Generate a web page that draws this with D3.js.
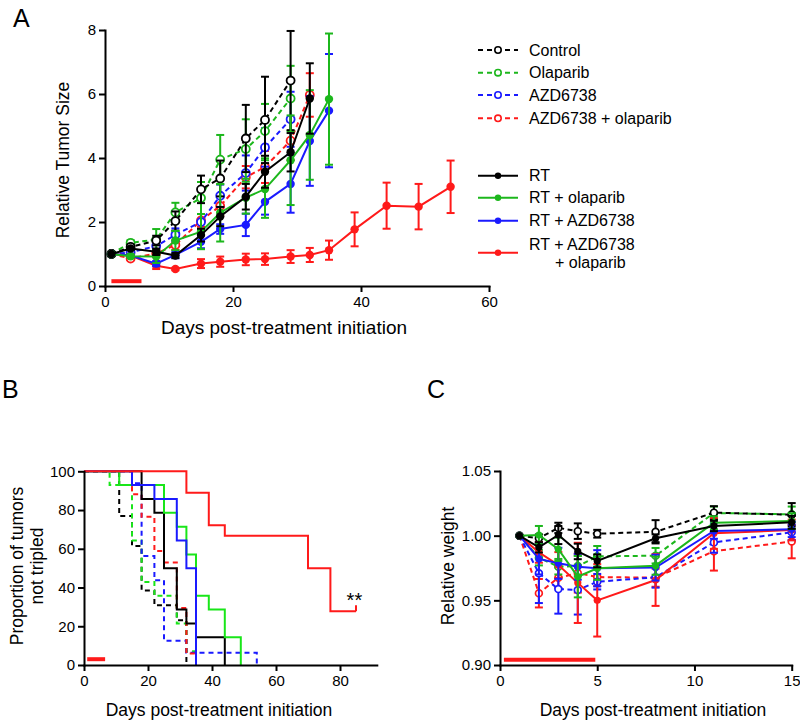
<!DOCTYPE html>
<html><head><meta charset="utf-8">
<script src="https://cdn.jsdelivr.net/npm/d3@7"></script>
<style>body{margin:0;background:#fff} svg{display:block}</style>
</head><body>
<svg id="chart" width="800" height="722"></svg>
<script>
// ---------------- DATA ----------------
// Panel A: relative tumour size
const daysA = [1,4,8,11,15,18,22,25,29,32,35,39,44,49,54];
const control      = [1.00,1.22,1.42,2.03,3.02,3.36,4.61,5.19,6.42];
const controlErr   = [0,0.08,0.15,0.30,0.43,0.56,1.05,1.35,1.55];
const olaparib     = [1.00,1.35,1.45,2.30,2.75,3.95,4.28,4.84,5.86];
const olaparibErr  = [0,0.08,0.33,0.30,0.50,0.77,0.93,0.85,1.02];
const azd          = [1.00,1.05,1.25,1.60,2.00,2.82,3.53,4.33,5.21];
const azdErr       = [0,0.06,0.15,0.20,0.25,0.35,0.55,0.60,0.86];
const azdOla       = [1.00,0.86,1.02,1.28,2.05,2.50,3.40,3.72,4.54,5.97];
const azdOlaErr    = [0,0.05,0.12,0.15,0.20,0.30,0.35,0.50,0.60,0.68];
const rt           = [1.00,1.17,1.07,0.95,1.59,2.17,2.79,3.57,4.18,5.86];
const rtErr        = [0,0.05,0.10,0.08,0.20,0.30,0.40,0.50,0.60,1.10];
const rtOla        = [1.00,0.93,0.92,1.42,1.70,2.29,2.76,3.03,3.93,4.72,5.84];
const rtOlaErr     = [0,0.06,0.20,0.30,0.55,0.90,0.50,0.90,1.40,1.40,2.05];
const rtAzd        = [1.00,0.95,0.70,0.97,1.38,1.78,1.91,2.63,3.19,4.53,5.48];
const rtAzdErr     = [0,0.05,0.08,0.10,0.20,0.15,0.35,0.40,0.90,1.40,1.77];
const rtAzdOla     = [1.00,0.95,0.63,0.53,0.70,0.76,0.83,0.84,0.92,0.97,1.12,1.77,2.51,2.48,3.10];
const rtAzdOlaErr  = [0,0.05,0.10,0.04,0.14,0.16,0.18,0.18,0.20,0.22,0.30,0.53,0.72,0.71,0.82];
const ticksAx = [0,20,40,60];
const ticksAy = [0,2,4,6,8];
const treatA = [1, 5.7, 0.15];   // start day, end day, level

// Panel B: Kaplan-Meier, proportion of tumours not tripled
const kmControlT  = [0,11,15,18,22,29,32];
const kmControlS  = [100,76.9,61.5,38.5,30.8,23.1,0];
const kmOlaT      = [0,8,15,18,22,29,32,35];
const kmOlaS      = [100,92.9,64.3,42.9,35.7,21.4,7.1,0];
const kmAzdT      = [0,15,18,22,25,32,54];
const kmAzdS      = [100,93.8,56.3,43.8,12.5,6.3,0];
const kmAzdOlaT   = [0,15,18,22,25,29,32,35];
const kmAzdOlaS   = [100,88.2,76.5,58.8,52.9,29.4,5.9,0];
const kmRtT       = [0,18,22,25,29,32,35,44];
const kmRtS       = [100,85.7,78.6,50,28.6,21.4,14.3,0];
const kmRtOlaT    = [0,11,25,29,32,35,39,44,49];
const kmRtOlaS    = [100,92.9,78.6,71.4,57.1,35.7,28.6,14.3,0];
const kmRtAzdT    = [0,15,22,29,32,35];
const kmRtAzdS    = [100,92.9,85.7,64.3,50,0];
const kmRtAzdOlaT = [0,32,39,44,70,77,85];
const kmRtAzdOlaS = [100,88.9,72.2,66.7,50,27.8,27.8];
const ticksBx = [0,20,40,60,80];
const ticksBy = [0,20,40,60,80,100];
const treatB = [1, 6.6, 3];

// Panel C: relative weight
const daysC = [1,2,3,4,5,8,11,15];
const wControl     = [1.000,0.998,1.006,1.0035,1.0015,1.003,1.0178,1.0162];
const wControlErr  = [0,0.003,0.004,0.006,0.003,0.009,0.005,0.009];
const wOla         = [1.000,0.983,0.976,0.9765,0.984,0.9845,1.0175,1.0165];
const wOlaErr      = [0,0.006,0.006,0.008,0.008,0.006,0.005,0.006];
const wAzd         = [1.000,0.9709,0.9587,0.958,0.9644,0.9678,0.9948,1.0026];
const wAzdErr      = [0,0.023,0.019,0.019,0.006,0.008,0.008,0.006];
const wAzdOla      = [1.000,0.9555,0.9675,0.971,0.968,0.9675,0.988,0.9955];
const wAzdOlaErr   = [0,0.011,0.008,0.015,0.007,0.007,0.015,0.013];
const wRt          = [1.000,0.991,1.0005,0.9878,0.9805,0.998,1.0075,1.0103];
const wRtErr       = [0,0.004,0.007,0.006,0.005,0.003,0.004,0.005];
const wRtOla       = [1.000,1.0005,0.9895,0.9683,0.9748,0.9768,1.010,1.0113];
const wRtOlaErr    = [0,0.007,0.009,0.016,0.009,0.007,0.005,0.006];
const wRtAzd       = [1.000,0.982,0.9786,0.976,0.9748,0.9753,1.0036,1.0049];
const wRtAzdErr    = [0,0.012,0.012,0.010,0.014,0.010,0.006,0.006];
const wRtAzdOla    = [1.000,0.9871,0.9773,0.9635,0.950,0.9657,1.0018,1.0044];
const wRtAzdOlaErr = [0,0.008,0.010,0.031,0.028,0.020,0.012,0.008];
const ticksCx = [0,5,10,15];
const ticksCy = [0.90,0.95,1.00,1.05];
const treatC = [0.2, 4.9, 0.904];

const legendNames = ["Control","Olaparib","AZD6738","AZD6738 + olaparib","RT","RT + olaparib","RT + AZD6738","RT + AZD6738"];

// ---------------- STYLE ----------------
const FONT = '"Liberation Sans", Arial, Helvetica, sans-serif';
const BLACK="#000000", GREEN="#1cb71c", BLUE="#1a1aff", RED="#ff1a1a", GREENB="#19e619";

const svg = d3.select("#chart").attr("font-family", FONT);

function styleAxis(sel){
  sel.attr("font-family", FONT).attr("font-size", 15);
  sel.select(".domain").attr("stroke","#000").attr("stroke-width",2).attr("stroke-linecap","square");
  sel.selectAll(".tick line").attr("stroke","#000").attr("stroke-width",2);
  sel.selectAll(".tick text").attr("fill","#000");
}

function drawXY(g, x, y, days, vals, errs, color, dashed, open, o){
  const pts = vals.map((v,i)=>({d:days[i], v:v, e:errs[i]}));
  const eg = g.append("g").attr("stroke", color).attr("stroke-width", o.ew);
  pts.filter(p=>p.e>0).forEach(p=>{
    const cx=x(p.d), y1=y(p.v-p.e), y2=y(p.v+p.e);
    eg.append("line").attr("x1",cx).attr("x2",cx).attr("y1",y1).attr("y2",y2);
    eg.append("line").attr("x1",cx-o.cap).attr("x2",cx+o.cap).attr("y1",y1).attr("y2",y1);
    eg.append("line").attr("x1",cx-o.cap).attr("x2",cx+o.cap).attr("y1",y2).attr("y2",y2);
  });
  g.append("path").datum(pts)
    .attr("d", d3.line().x(p=>x(p.d)).y(p=>y(p.v)))
    .attr("fill","none").attr("stroke",color).attr("stroke-width",o.lw)
    .attr("stroke-dasharray", dashed ? o.dash : null);
  g.append("g").selectAll("circle").data(pts).join("circle")
    .attr("cx",p=>x(p.d)).attr("cy",p=>y(p.v))
    .attr("r", open ? o.ro : o.r)
    .attr("fill", open ? "#fff" : color)
    .attr("stroke", color).attr("stroke-width", open ? o.ow : 0);
}

// ---------------- PANEL A ----------------
const xA = d3.scaleLinear().domain([0,60]).range([105,489]);
const yA = d3.scaleLinear().domain([0,8]).range([286,30]);
const gA = svg.append("g");
gA.append("g").attr("transform","translate(0,"+yA(0)+")")
  .call(d3.axisBottom(xA).tickValues(ticksAx).tickSize(6).tickSizeOuter(0).tickPadding(4)).call(styleAxis);
gA.append("g").attr("transform","translate("+xA(0)+",0)")
  .call(d3.axisLeft(yA).tickValues(ticksAy).tickSize(6).tickSizeOuter(0).tickPadding(3)).call(styleAxis);

gA.append("line").attr("x1",xA(treatA[0])).attr("x2",xA(treatA[1]))
  .attr("y1",yA(treatA[2])).attr("y2",yA(treatA[2])).attr("stroke",RED).attr("stroke-width",4);

const oA = {ew:2, cap:4, lw:2, dash:"5,3.5", r:4.2, ro:4, ow:1.8};
const seriesA = [
  [azdOla, azdOlaErr, RED, true, true],
  [azd, azdErr, BLUE, true, true],
  [olaparib, olaparibErr, GREEN, true, true],
  [control, controlErr, BLACK, true, true],
  [rtAzdOla, rtAzdOlaErr, RED, false, false],
  [rtAzd, rtAzdErr, BLUE, false, false],
  [rtOla, rtOlaErr, GREEN, false, false],
  [rt, rtErr, BLACK, false, false]
];
seriesA.forEach(s=>drawXY(gA.append("g"), xA, yA, daysA, s[0], s[1], s[2], s[3], s[4], oA));

gA.append("text").attr("transform","translate(63,160) rotate(-90)").attr("text-anchor","middle")
  .attr("dy","0.35em").attr("font-size",17.5).text("Relative Tumor Size");
gA.append("text").attr("x",284).attr("y",334).attr("text-anchor","middle").attr("font-size",19)
  .text("Days post-treatment initiation");
svg.append("text").attr("x",13).attr("y",27).attr("font-size",25).text("A");

// legend
const legColors = [BLACK,GREEN,BLUE,RED,BLACK,GREEN,BLUE,RED];
const legY = [50,72.7,95,118.3,175.7,197.7,220.7,252.7];
const lg = svg.append("g");
legendNames.forEach((nm,i)=>{
  const dashed = i<4, yy = legY[i];
  lg.append("line").attr("x1",478).attr("x2",518).attr("y1",yy).attr("y2",yy)
    .attr("stroke",legColors[i]).attr("stroke-width",2).attr("stroke-dasharray",dashed?"5,4":null);
  lg.append("circle").attr("cx",498).attr("cy",yy).attr("r",3.2)
    .attr("fill",dashed?"#fff":legColors[i]).attr("stroke",legColors[i]).attr("stroke-width",dashed?1.6:0);
  if(i<7){
    lg.append("text").attr("x",529).attr("y",yy).attr("dy","0.35em").attr("font-size",16).text(nm);
  } else {
    lg.append("text").attr("x",529).attr("y",yy-8.5).attr("dy","0.35em").attr("font-size",16).text(nm);
    lg.append("text").attr("x",555).attr("y",yy+10).attr("dy","0.35em").attr("font-size",16).text("+ olaparib");
  }
});

// ---------------- PANEL B ----------------
const xB = d3.scaleLinear().domain([0,91.5]).range([84,376.8]);
const yB = d3.scaleLinear().domain([0,100]).range([665,471.3]);
const gB = svg.append("g");
const km = [
  [kmControlT,kmControlS,BLACK,true],
  [kmOlaT,kmOlaS,GREENB,true],
  [kmAzdT,kmAzdS,BLUE,true],
  [kmAzdOlaT,kmAzdOlaS,RED,true],
  [kmRtT,kmRtS,BLACK,false],
  [kmRtOlaT,kmRtOlaS,GREENB,false],
  [kmRtAzdT,kmRtAzdS,BLUE,false],
  [kmRtAzdOlaT,kmRtAzdOlaS,RED,false]
];
const kmLine = d3.line().x(p=>xB(p[0])).y(p=>yB(p[1])).curve(d3.curveStepAfter);
km.forEach(k=>{
  const pts = k[0].map((t,i)=>[t,k[1][i]]);
  gB.append("path").datum(pts).attr("d",kmLine).attr("fill","none")
    .attr("stroke",k[2]).attr("stroke-width",2).attr("stroke-dasharray",k[3]?"5,4":null);
});
// censor tick at end of red curve
const lastT = kmRtAzdOlaT[kmRtAzdOlaT.length-1], lastS = kmRtAzdOlaS[kmRtAzdOlaS.length-1];
gB.append("line").attr("x1",xB(lastT)).attr("x2",xB(lastT)).attr("y1",yB(lastS)).attr("y2",yB(lastS+3))
  .attr("stroke",RED).attr("stroke-width",2);
gB.append("line").attr("x1",xB(treatB[0])).attr("x2",xB(treatB[1]))
  .attr("y1",yB(treatB[2])).attr("y2",yB(treatB[2])).attr("stroke",RED).attr("stroke-width",4);
gB.append("g").attr("transform","translate(0,"+yB(0)+")")
  .call(d3.axisBottom(xB).tickValues(ticksBx).tickSize(6).tickSizeOuter(0).tickPadding(4)).call(styleAxis);
gB.append("g").attr("transform","translate("+xB(0)+",0)")
  .call(d3.axisLeft(yB).tickValues(ticksBy).tickSize(6).tickSizeOuter(0).tickPadding(3)).call(styleAxis);
gB.append("text").attr("x",xB(84.5)).attr("y",yB(30)).attr("text-anchor","middle").attr("font-size",20).text("**");
gB.append("text").attr("transform","translate(17,566) rotate(-90)").attr("text-anchor","middle")
  .attr("dy","0.35em").attr("font-size",17.5).text("Proportion of tumors");
gB.append("text").attr("transform","translate(37,566) rotate(-90)").attr("text-anchor","middle")
  .attr("dy","0.35em").attr("font-size",17.5).text("not tripled");
gB.append("text").attr("x",219).attr("y",716).attr("text-anchor","middle").attr("font-size",17.5)
  .text("Days post-treatment initiation");
svg.append("text").attr("x",2).attr("y",398).attr("font-size",25).text("B");

// ---------------- PANEL C ----------------
const xC = d3.scaleLinear().domain([0,15]).range([500,791.7]);
const yC = d3.scaleLinear().domain([0.90,1.05]).range([665,471]);
const gC = svg.append("g");
gC.append("g").attr("transform","translate(0,"+yC(0.90)+")")
  .call(d3.axisBottom(xC).tickValues(ticksCx).tickSize(6).tickSizeOuter(0).tickPadding(4)).call(styleAxis);
gC.append("g").attr("transform","translate("+xC(0)+",0)")
  .call(d3.axisLeft(yC).tickValues(ticksCy).tickFormat(d3.format(".2f")).tickSize(6).tickSizeOuter(0).tickPadding(3)).call(styleAxis);
gC.append("line").attr("x1",xC(treatC[0])).attr("x2",xC(treatC[1]))
  .attr("y1",yC(treatC[2])).attr("y2",yC(treatC[2])).attr("stroke",RED).attr("stroke-width",4);
const oC = {ew:2, cap:4, lw:2, dash:"5,3.5", r:3.6, ro:3.4, ow:1.7};
const seriesC = [
  [wAzdOla, wAzdOlaErr, RED, true, true],
  [wAzd, wAzdErr, BLUE, true, true],
  [wOla, wOlaErr, GREEN, true, true],
  [wControl, wControlErr, BLACK, true, true],
  [wRtAzdOla, wRtAzdOlaErr, RED, false, false],
  [wRtAzd, wRtAzdErr, BLUE, false, false],
  [wRtOla, wRtOlaErr, GREEN, false, false],
  [wRt, wRtErr, BLACK, false, false]
];
seriesC.forEach(s=>drawXY(gC.append("g"), xC, yC, daysC, s[0], s[1], s[2], s[3], s[4], oC));
gC.append("text").attr("transform","translate(448,566) rotate(-90)").attr("text-anchor","middle")
  .attr("dy","0.35em").attr("font-size",17.5).text("Relative weight");
gC.append("text").attr("x",653).attr("y",716).attr("text-anchor","middle").attr("font-size",17.5)
  .text("Days post-treatment initiation");
svg.append("text").attr("x",427).attr("y",398).attr("font-size",25).text("C");
</script>
</body></html>
